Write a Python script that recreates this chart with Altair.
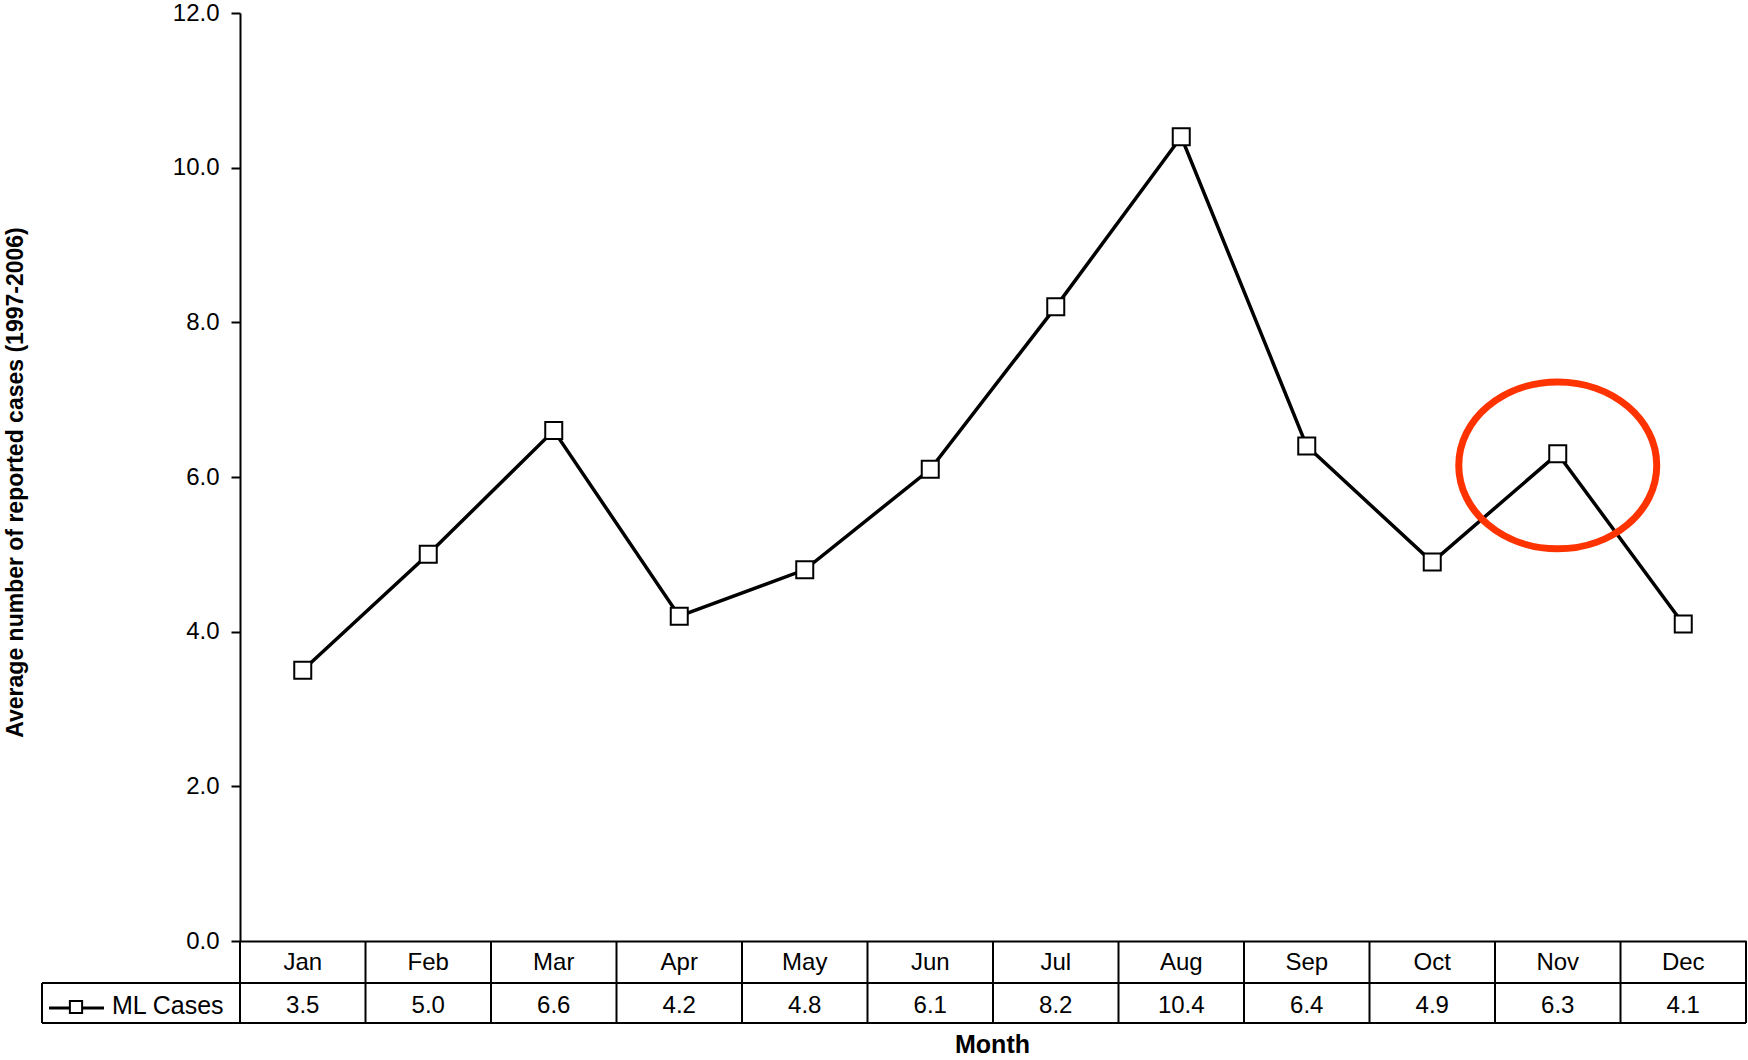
import altair as alt
import pandas as pd

# ---- data ----
months = ["Jan", "Feb", "Mar", "Apr", "May", "Jun", "Jul", "Aug", "Sep", "Oct", "Nov", "Dec"]
cases = [3.5, 5.0, 6.6, 4.2, 4.8, 6.1, 8.2, 10.4, 6.4, 4.9, 6.3, 4.1]
series_name = ["ML Cases"]
y_ticks = [0, 2, 4, 6, 8, 10, 12]
highlight_month = ["Nov"]
highlight_value = [6.15]

df = pd.DataFrame({"Month": months, "Cases": cases})
hl = pd.DataFrame({"Month": highlight_month, "Cases": highlight_value})
leg = pd.DataFrame({"label": series_name})

FONT = "Liberation Sans"
W, H = 1506, 928
ROW1_BOTTOM = 970
TABLE_BOTTOM = 1010
LEFT_CELL = -198

xscale = alt.Scale(type="band", domain=months, paddingInner=0, paddingOuter=0)
yscale = alt.Scale(domain=[0, 12], nice=False, zero=True)

x_ax = alt.Axis(
    title="Month", domain=True, domainColor="black", domainWidth=2,
    ticks=False, labelFont=FONT, labelFontSize=24, labelColor="black",
    labelBaseline="middle", labelPadding=21, labelAngle=0,
    titleFont=FONT, titleFontSize=25, titleFontWeight="bold", titleColor="black",
    titleX=752, titleY=103, titleBaseline="middle", titleAlign="center",
)
y_ax = alt.Axis(
    values=y_ticks, format=".1f", grid=False,
    domainColor="black", domainWidth=2, tickColor="black", tickWidth=2, tickSize=9,
    labelFont=FONT, labelFontSize=24, labelColor="black", labelPadding=12,
    title="Average number of reported cases (1997-2006)",
    titleFont=FONT, titleFontSize=23, titleFontWeight="bold", titleColor="black",
    titleX=-225, titleY=469, titleAngle=270, titleBaseline="middle", titleAlign="center",
)

x_enc = alt.X("Month:N", scale=xscale, sort=months, axis=x_ax, title="Month")
y_enc = alt.Y("Cases:Q", scale=yscale, axis=y_ax,
              title="Average number of reported cases (1997-2006)")

line = alt.Chart(df).mark_line(color="black", strokeWidth=3.5).encode(x=x_enc, y=y_enc)
points = alt.Chart(df).mark_point(
    shape="square", filled=True, fill="white", stroke="black", strokeWidth=2, size=289, opacity=1
).encode(x=x_enc, y=y_enc)

ellipse_path = ("M -1 0 C -1 -0.4656 -0.5523 -0.843 0 -0.843 "
                "C 0.5523 -0.843 1 -0.4656 1 0 "
                "C 1 0.4656 0.5523 0.843 0 0.843 "
                "C -0.5523 0.843 -1 0.4656 -1 0 Z")
ellipse = alt.Chart(hl).mark_point(
    shape=ellipse_path, filled=False, stroke="#FF3300", strokeWidth=7, size=198 * 198, opacity=1
).encode(x=x_enc, y=y_enc)

# ---- data table under the chart ----
col_lines = alt.Chart(df).mark_rule(color="black", strokeWidth=2).encode(
    x=alt.X("Month:N", scale=xscale, sort=months, axis=x_ax, title="Month", bandPosition=1),
    y=alt.value(H), y2=alt.value(TABLE_BOTTOM),
)
left_line = alt.Chart(leg).mark_rule(color="black", strokeWidth=2).encode(
    x=alt.value(0), y=alt.value(H), y2=alt.value(TABLE_BOTTOM)
)
h_mid = alt.Chart(leg).mark_rule(color="black", strokeWidth=2).encode(
    x=alt.value(LEFT_CELL), x2=alt.value(W), y=alt.value(ROW1_BOTTOM)
)
h_bot = alt.Chart(leg).mark_rule(color="black", strokeWidth=2).encode(
    x=alt.value(LEFT_CELL), x2=alt.value(W), y=alt.value(TABLE_BOTTOM)
)
v_leg = alt.Chart(leg).mark_rule(color="black", strokeWidth=2).encode(
    x=alt.value(LEFT_CELL), y=alt.value(ROW1_BOTTOM), y2=alt.value(TABLE_BOTTOM)
)
values_text = alt.Chart(df).mark_text(
    font=FONT, fontSize=24, color="black", baseline="middle", align="center"
).encode(x=x_enc, y=alt.value(993), text=alt.Text("Cases:Q", format=".1f"))

leg_line = alt.Chart(leg).mark_rule(color="black", strokeWidth=3).encode(
    x=alt.value(-191), x2=alt.value(-136), y=alt.value(995)
)
leg_sq = alt.Chart(leg).mark_point(
    shape="square", filled=True, fill="white", stroke="black", strokeWidth=2, size=150, opacity=1
).encode(x=alt.value(-164), y=alt.value(994))
leg_text = alt.Chart(leg).mark_text(
    font=FONT, fontSize=25, color="black", baseline="middle", align="left"
).encode(x=alt.value(-128), y=alt.value(993), text="label:N")

chart = alt.layer(
    line, col_lines, left_line, h_mid, h_bot, v_leg, values_text,
    leg_line, leg_sq, leg_text, points, ellipse
).properties(
    width=W, height=H,
    autosize=alt.AutoSizeParams(type="none"),
    padding={"left": 240, "top": 13, "right": 2, "bottom": 119},
    background="white",
).configure_view(stroke=None)

chart.save("out.html", embed_options={"renderer": "svg", "actions": False})
